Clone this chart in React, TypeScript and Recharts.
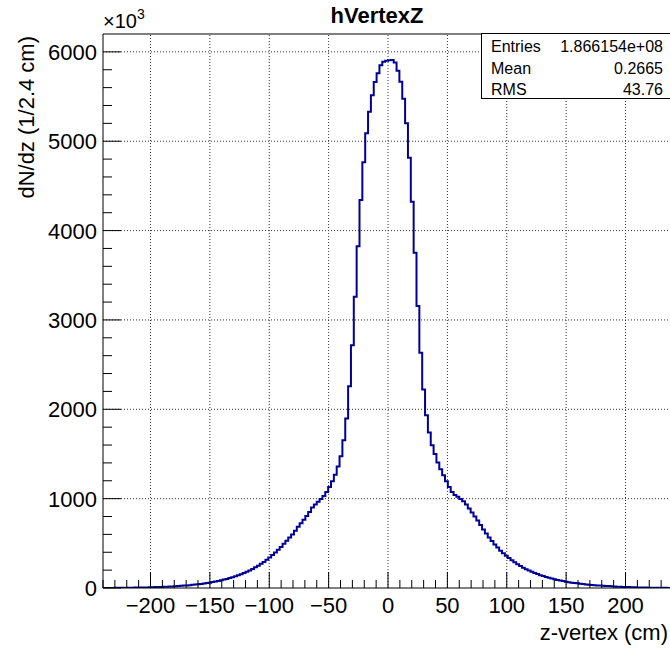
import { LineChart, Line, XAxis, YAxis, ReferenceLine } from "recharts";

const binWidth = 2.4;
const zMin = -240;
const zMax = 240;

// counts per 2.4 cm bin (x10^3), left to right, -240 .. 0
const countsNeg = [
  1, 1, 1, 1, 2, 2, 2, 3, 3, 4, 4, 5, 5, 6, 7, 7,
  8, 9, 10, 11, 12, 13, 15, 16, 18, 20, 22, 24, 27, 29, 32, 35, 38, 42, 46, 50,
  55, 60, 66, 72, 79, 86, 94, 102, 111, 121, 132, 143, 155, 168, 182, 197, 213, 231, 250, 270,
  292, 315, 340, 368, 398, 428, 460, 495, 530, 565, 600, 640, 685, 725, 765, 805, 850, 900, 935, 965,
  995, 1030, 1075, 1130, 1195, 1268, 1360, 1475, 1654, 1897, 2259, 2718, 3259, 3826, 4342, 4764,
  5088, 5330, 5514, 5663, 5760, 5850, 5890, 5900,
];

// 0 .. 240
const countsPos = [
  5905, 5910, 5880, 5790, 5665, 5475, 5200, 4815, 4323, 3752,
  3155, 2632, 2222, 1934, 1740, 1598, 1500, 1405, 1330, 1262,
  1195, 1130, 1075, 1040, 1020, 995, 970, 935, 890, 845,
  800, 755, 705, 655, 610, 565, 525, 488, 452, 418,
  390, 362, 335, 310, 287, 265, 245, 226, 210, 195,
  181, 168, 156, 144, 133, 123, 114, 106, 98, 90,
  83, 77, 71, 65, 60, 56, 52, 48, 44, 40,
  37, 34, 32, 29, 27, 25, 23, 21, 19, 17,
  15, 14, 12, 11, 10, 9, 8, 7, 6, 6, 5, 4, 4, 3, 3, 2, 2, 2, 1, 1,
];

const xMajorTicks = [-200, -150, -100, -50, 0, 50, 100, 150, 200];
const yMajorTicks = [0, 1000, 2000, 3000, 4000, 5000, 6000];
const xTicks = Array.from({ length: 49 }, (_, i) => -240 + i * 10);
const yTicks = Array.from({ length: 31 }, (_, i) => i * 200);

const statNames = ["Entries", "Mean", "RMS"];
const statValues = ["1.866154e+08", "0.2665", "43.76"];

const counts = [...countsNeg, ...countsPos];
const rows = counts.map((v, i) => ({ z: zMin + i * binWidth, v }));
rows.push({ z: zMax, v: counts[counts.length - 1] });

const font = "'Liberation Sans', Arial, Helvetica, sans-serif";

const fmt = (v: number) => (v < 0 ? "\u2212" + Math.abs(v) : String(v));

const XTick = (props: any) => {
  const { x, y, payload } = props;
  const major = xMajorTicks.includes(payload.value);
  return (
    <g>
      <line x1={x} x2={x} y1={y} y2={y - (major ? 16 : 8)} stroke="#000" />
      {major && (
        <text x={x} y={y + 25} textAnchor="middle" fontSize={22} fontFamily={font} fill="#000">
          {fmt(payload.value)}
        </text>
      )}
    </g>
  );
};

const YTick = (props: any) => {
  const { x, y, payload } = props;
  const major = yMajorTicks.includes(payload.value);
  return (
    <g>
      <line x1={x} x2={x + (major ? 18 : 9)} y1={y} y2={y} stroke="#000" />
      {major && (
        <text x={x - 6} y={y + 8} textAnchor="end" fontSize={22} fontFamily={font} fill="#000">
          {payload.value}
        </text>
      )}
    </g>
  );
};

export default function App() {
  return (
    <div style={{ position: "absolute", left: 0, top: 0, width: 670, height: 652, overflow: "hidden", background: "#fff" }}>
      <LineChart width={700} height={652} data={rows} margin={{ top: 34, right: 27, left: 0, bottom: 0 }}>
        <XAxis
          type="number"
          dataKey="z"
          domain={[zMin, zMax]}
          ticks={xTicks}
          interval={0}
          tickSize={0}
          tickMargin={0}
          height={64}
          tick={XTick}
          axisLine={{ stroke: "#000" }}
          allowDataOverflow
        />
        <YAxis
          type="number"
          domain={[0, 6200]}
          ticks={yTicks}
          interval={0}
          tickSize={0}
          tickMargin={0}
          width={103}
          tick={YTick}
          axisLine={{ stroke: "#000" }}
          allowDataOverflow
        />
        {xMajorTicks.map((t) => (
          <ReferenceLine key={"gx" + t} x={t} stroke="#333" strokeDasharray="1 2" />
        ))}
        {yMajorTicks.slice(1).map((t) => (
          <ReferenceLine key={"gy" + t} y={t} stroke="#333" strokeDasharray="1 2" />
        ))}
        <ReferenceLine y={6200} stroke="#000" />
        <ReferenceLine x={zMax} stroke="#000" />
        <Line
          type="stepAfter"
          dataKey="v"
          stroke="#000099"
          strokeWidth={2}
          dot={false}
          isAnimationActive={false}
        />
      </LineChart>
      <svg width={670} height={652} style={{ position: "absolute", left: 0, top: 0, pointerEvents: "none" }} fontFamily={font}>
        <text x={377} y={23} textAnchor="middle" fontSize={22} fontWeight="bold">hVertexZ</text>
        <text x={103} y={28} fontSize={20}>
          ×10<tspan fontSize={14} dy={-9}>3</tspan>
        </text>
        <text transform="translate(34,36) rotate(-90)" textAnchor="end" fontSize={22}>dN/dz (1/2.4 cm)</text>
        <text x={668} y={640} textAnchor="end" fontSize={22}>z-vertex (cm)</text>
        <rect x={481.5} y={33.5} width={220} height={65} fill="#fff" stroke="#000" />
        {statNames.map((n, i) => (
          <g key={n}>
            <text x={491} y={52 + i * 21.5} fontSize={16}>{n}</text>
            <text x={663} y={52 + i * 21.5} fontSize={16} textAnchor="end">{statValues[i]}</text>
          </g>
        ))}
      </svg>
    </div>
  );
}
